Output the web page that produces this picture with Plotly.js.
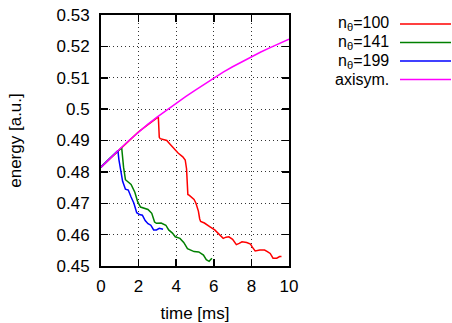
<!DOCTYPE html>
<html><head><meta charset="utf-8">
<script src="https://cdn.plot.ly/plotly-3.0.1.min.js"></script>
<style>body{margin:0;padding:0;background:#fff}#plot{width:452px;height:323px}</style>
</head><body><div id="plot"></div>
<script>
// time [ms] and energy [a.u.]
const axisymX = [0, 0.5, 1, 1.5, 2, 2.5, 3, 3.5, 4, 4.5, 5, 5.5, 6, 6.5, 7, 7.5, 8, 8.5, 9, 9.5, 10];
const axisymY = [0.4815, 0.4845, 0.4873, 0.4901, 0.4928, 0.4952, 0.4975, 0.4997, 0.5019, 0.504, 0.506, 0.508, 0.510, 0.5118, 0.5135, 0.5151, 0.5167, 0.5182, 0.5196, 0.521, 0.5223];

const n100X = [0, 1, 2, 3.05, 3.1, 3.15, 3.3, 3.5, 3.65, 3.85, 4.1, 4.35, 4.48, 4.55, 4.58, 4.62, 4.7, 4.82, 4.95, 5.05, 5.18, 5.25, 5.3, 5.5, 5.65, 5.8, 6.05, 6.3, 6.5, 6.65, 6.8, 7.0, 7.2, 7.35, 7.5, 7.75, 7.95, 8.05, 8.2, 8.45, 8.7, 8.85, 9.0, 9.15, 9.35, 9.5, 9.6];
const n100Y = [0.4815, 0.4873, 0.4928, 0.4975, 0.491, 0.4906, 0.4903, 0.490, 0.489, 0.4875, 0.486, 0.4848, 0.4838, 0.481, 0.4755, 0.4728, 0.4725, 0.472, 0.4712, 0.470, 0.4675, 0.465, 0.4642, 0.4637, 0.463, 0.4625, 0.4615, 0.460, 0.4588, 0.4592, 0.4593, 0.4585, 0.4568, 0.4572, 0.4577, 0.4575, 0.457, 0.456, 0.4548, 0.4551, 0.4551, 0.4546, 0.454, 0.4525, 0.4525, 0.453, 0.453];

const n141X = [0, 0.5, 1.1, 1.15, 1.2, 1.3, 1.45, 1.6, 1.8, 1.95, 2.1, 2.3, 2.5, 2.7, 2.85, 2.95, 3.2, 3.45, 3.6, 3.8, 3.95, 4.2, 4.4, 4.6, 4.8, 4.95, 5.2, 5.45, 5.6, 5.75, 5.9];
const n141Y = [0.4815, 0.4845, 0.4877, 0.4845, 0.4815, 0.4775, 0.4768, 0.476, 0.4735, 0.4705, 0.4688, 0.4684, 0.468, 0.4668, 0.464, 0.4636, 0.4637, 0.463, 0.4615, 0.4605, 0.4593, 0.4588, 0.4575, 0.4555, 0.455, 0.4546, 0.4545, 0.4535, 0.452, 0.4515, 0.4525];

const n199X = [0, 0.5, 0.9, 0.95, 1.05, 1.15, 1.3, 1.45, 1.6, 1.75, 1.9, 2.05, 2.2, 2.35, 2.5, 2.65, 2.8, 2.95, 3.1, 3.3];
const n199Y = [0.4815, 0.4845, 0.4868, 0.484, 0.480, 0.477, 0.4745, 0.4742, 0.472, 0.470, 0.467, 0.4664, 0.4662, 0.4645, 0.4635, 0.463, 0.4615, 0.4615, 0.462, 0.4617];

const seriesNames = ["n<sub>θ</sub>=100", "n<sub>θ</sub>=141", "n<sub>θ</sub>=199", "axisym."];
const seriesColors = ["#ff0000", "#008000", "#0000ff", "#ff00ff"];
const xTicks = [0, 2, 4, 6, 8, 10];
const yTicks = [0.45, 0.46, 0.47, 0.48, 0.49, 0.5, 0.51, 0.52, 0.53];
const yTickText = ["0.45", "0.46", "0.47", "0.48", "0.49", "0.5", "0.51", "0.52", "0.53"];

const xs = [n100X, n141X, n199X, axisymX];
const ys = [n100Y, n141Y, n199Y, axisymY];
const traces = xs.map((x, i) => ({
  x: x, y: ys[i], type: 'scatter', mode: 'lines', name: seriesNames[i],
  line: {color: seriesColors[i], width: 1.5}, showlegend: false, hoverinfo: 'skip'
}));

const fam = 'Liberation Sans, Arial, sans-serif';
const font = {family: fam, size: 17, color: '#000'};
const annotations = [];
const shapes = [];
const rowY = [24, 42.5, 61, 79.5];
seriesNames.forEach((n, i) => {
  const yp = 1 - (rowY[i] - 15) / 251;
  annotations.push({xref: 'paper', yref: 'paper', x: (390 - 101) / 188, y: yp, xanchor: 'right', yanchor: 'middle',
    text: n, showarrow: false, borderpad: 0, font: {family: fam, size: 16, color: '#000'}});
  shapes.push({type: 'line', xref: 'paper', yref: 'paper', x0: (400 - 101) / 188, x1: (451 - 101) / 188, y0: yp, y1: yp,
    line: {color: seriesColors[i], width: 1.5}});
});

const axisCommon = {ticks: 'inside', ticklen: 7, tickwidth: 1.5, tickcolor: '#000',
  showline: true, linecolor: '#000', linewidth: 2, mirror: 'ticks', showgrid: true, gridcolor: '#333', griddash: '1px,3px', gridwidth: 1,
  zeroline: false, tickfont: font};

const layout = {
  width: 452, height: 323,
  margin: {l: 101, r: 163, t: 15, b: 57, pad: 0},
  paper_bgcolor: '#fff', plot_bgcolor: '#fff',
  font: font,
  showlegend: false,
  xaxis: Object.assign({range: [0, 10], tickvals: xTicks, ticktext: xTicks.map(String), ticklabelstandoff: 4,
    title: {text: 'time [ms]', font: font, standoff: 15}}, axisCommon),
  yaxis: Object.assign({range: [0.45, 0.53], tickvals: yTicks, ticktext: yTickText, ticklabelstandoff: 6,
    title: {text: 'energy [a.u.]', font: font, standoff: 31}}, axisCommon),
  annotations: annotations,
  shapes: shapes
};
Plotly.newPlot('plot', traces, layout, {staticPlot: true, displayModeBar: false});
</script></body></html>
